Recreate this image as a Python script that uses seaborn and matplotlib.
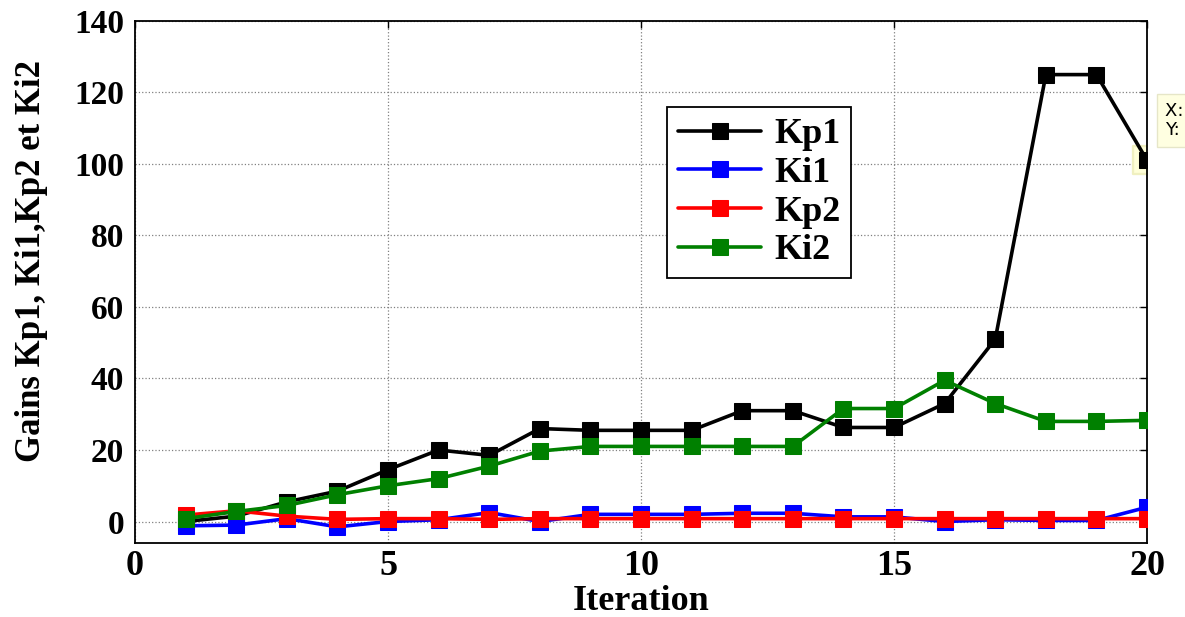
import matplotlib
matplotlib.use("Agg")
import matplotlib.pyplot as plt
import seaborn as sns
import pandas as pd

iterations = list(range(1, 21))
kp1 = [0.0, 1.5, 5.5, 8.5, 14.5, 20.0, 18.5, 26.0, 25.5, 25.5, 25.5, 31.0, 31.0, 26.3, 26.3, 33.0, 51.0, 125.0, 125.0, 101.0]
ki1 = [-1.2, -1.0, 0.8, -1.5, 0.0, 0.5, 2.5, 0.0, 2.0, 2.0, 2.0, 2.3, 2.3, 1.3, 1.3, 0.0, 0.5, 0.3, 0.3, 4.0]
kp2 = [1.8, 3.0, 1.5, 0.6, 0.8, 0.8, 0.6, 0.8, 0.8, 0.8, 0.8, 0.8, 0.8, 0.8, 0.8, 0.8, 0.8, 0.8, 0.8, 0.8]
ki2 = [0.8, 2.8, 4.5, 7.5, 10.0, 12.0, 15.5, 19.7, 21.0, 21.0, 21.0, 21.0, 21.0, 31.6, 31.6, 39.5, 33.0, 28.0, 28.0, 28.3]
series_names = ["Kp1", "Ki1", "Kp2", "Ki2"]
series_colors = ["#000000", "#0000ff", "#ff0000", "#008000"]
x_ticks = [0, 5, 10, 15, 20]
y_ticks = [0, 20, 40, 60, 80, 100, 120, 140]

sns.set_style("white")
plt.rcParams["font.family"] = ["Liberation Serif", "DejaVu Serif"]
plt.rcParams["text.color"] = "black"

fig = plt.figure(figsize=(11.85, 6.17), dpi=100)
ax = fig.add_axes([0.114, 0.12, 0.854, 0.846])

# datatip highlight behind last Kp1 point
sns.scatterplot(x=[iterations[-1]], y=[kp1[-1]], ax=ax, marker="s", s=420,
                color="#ffffd8", edgecolor="#f0f0c0", zorder=1, legend=False)

values = [kp1, ki1, kp2, ki2]
for name, vals, col in zip(series_names, values, series_colors):
    df = pd.DataFrame({"Iteration": iterations, "val": vals})
    sns.lineplot(data=df, x="Iteration", y="val", ax=ax, color=col, marker="s",
                 markersize=11, markeredgecolor=col, linewidth=2.6, label=name, zorder=3)

ax.set_xlim(0, 20)
ax.set_ylim(-6, 140)
ax.set_xticks(x_ticks)
ax.set_yticks(y_ticks)
ax.grid(True, color="#808080", linestyle=":", linewidth=0.9)
for s in ax.spines.values():
    s.set_color("black")
    s.set_linewidth(1.3)
ax.tick_params(direction="in", length=5, width=1, colors="black", pad=8,
               top=True, right=True)
ax.tick_params(axis="x", labelsize=26, pad=5)
ax.tick_params(axis="y", labelsize=24)
for lab in ax.get_xticklabels() + ax.get_yticklabels():
    lab.set_fontweight("bold")
ax.set_xlabel("Iteration", fontsize=26, fontweight="bold", color="black")
ax.xaxis.set_label_coords(0.5, -0.08)
ax.set_ylabel("Gains Kp1, Ki1,Kp2 et Ki2", fontsize=25, fontweight="bold", color="black")
ax.yaxis.set_label_coords(-0.086, 0.54)

leg = ax.legend(loc="upper left", bbox_to_anchor=(0.526, 0.835), borderaxespad=0,
                prop={"weight": "bold", "size": 26}, frameon=True, fancybox=False,
                handlelength=2.3, borderpad=0.3, labelspacing=0.15, handletextpad=0.35,
                framealpha=1)
leg.get_frame().set_edgecolor("black")
leg.get_frame().set_linewidth(1.3)
for t in leg.get_texts():
    t.set_color("black")

# data tip (partially off the figure edge, as in the reference)
fig.text(0.983, 0.835, "X: 20\nY: 101", fontsize=13, family="DejaVu Sans",
         va="top", ha="left", linespacing=1.1,
         bbox=dict(boxstyle="square,pad=0.45", facecolor="#ffffe1", edgecolor="#e6e6c8"))

fig.savefig("out.png", dpi=100)
